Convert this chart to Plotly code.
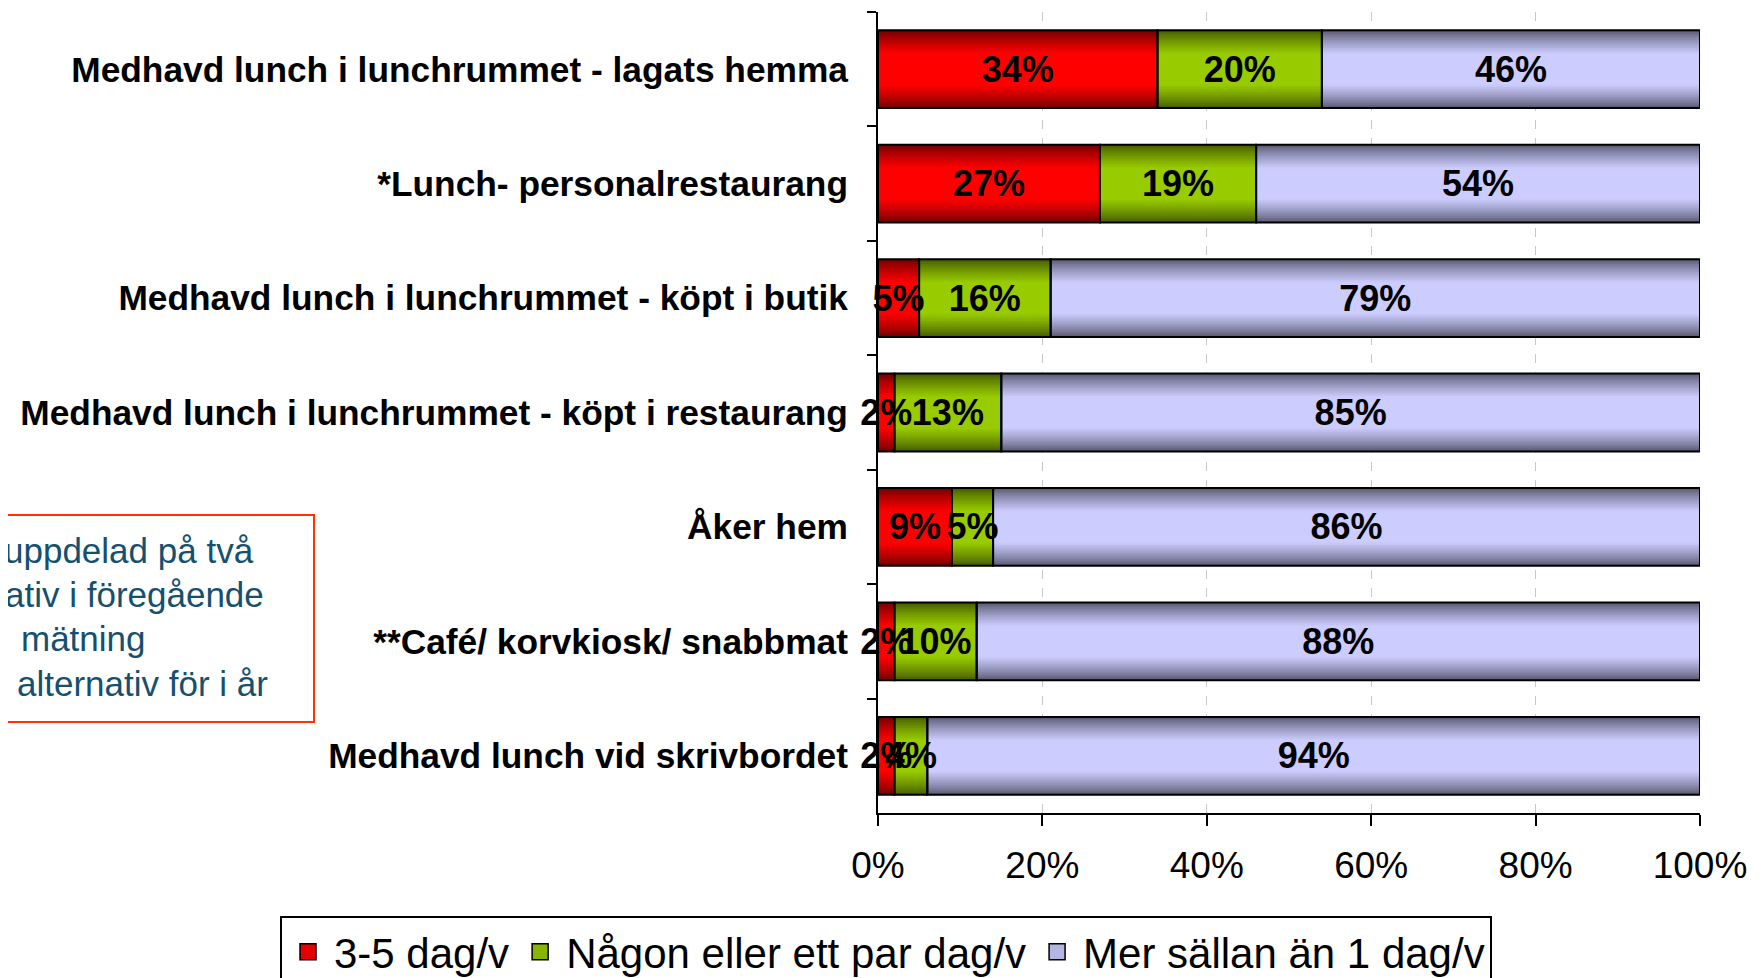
import plotly.graph_objects as go

# ---- data ----
categories = [
    "Medhavd lunch i lunchrummet - lagats hemma",
    "*Lunch- personalrestaurang",
    "Medhavd lunch i lunchrummet - köpt i butik",
    "Medhavd lunch i lunchrummet - köpt i restaurang",
    "Åker hem",
    "**Café/ korvkiosk/ snabbmat",
    "Medhavd lunch vid skrivbordet",
]
series_names = ["3-5 dag/v", "Någon eller ett par dag/v", "Mer sällan än 1 dag/v"]
v_often = [34, 27, 5, 2, 9, 2, 2]
v_some = [20, 19, 16, 13, 5, 10, 4]
v_rare = [46, 54, 79, 85, 86, 88, 94]
x_ticks = [0, 20, 40, 60, 80, 100]
x_tick_labels = ["0%", "20%", "40%", "60%", "80%", "100%"]
note_lines = ["uppdelad på två", "ativ i föregående", "mätning", "alternativ för i år"]

# ---- style ----
FONT = "Liberation Sans, Arial, sans-serif"
W, H = 1761, 978
OFF = 8  # page body margin offset


def px(x):
    return (x - OFF) / W


def py(y):
    return 1 - (y - OFF) / H


dark = [(0x70, 0x00, 0x00), (0x44, 0x5A, 0x00), (0x58, 0x58, 0x70)]
bright = [(0xFF, 0x00, 0x00), (0x99, 0xCC, 0x00), (0xCC, 0xCC, 0xFF)]
BAR_W = 0.68
N_LAYERS = 18


def mix(c1, c2, t):
    return "rgb(%d,%d,%d)" % tuple(round(a + (b - a) * t) for a, b in zip(c1, c2))


values = [v_often, v_some, v_rare]
bases = []
acc = [0] * len(categories)
for vals in values:
    bases.append(list(acc))
    acc = [a + v for a, v in zip(acc, vals)]

fig = go.Figure()

# gradient layers (outer dark -> inner bright)
for s, vals in enumerate(values):
    for i in range(N_LAYERS):
        frac = 1.0 - i * (0.7 / (N_LAYERS - 1))
        t = min(1.0, (i / (N_LAYERS - 1)) ** 0.8 * 1.15)
        fig.add_trace(go.Bar(
            y=categories, x=vals, base=bases[s], orientation="h",
            width=BAR_W * frac,
            marker=dict(color=mix(dark[s], bright[s], t), line=dict(width=0)),
            showlegend=False, hoverinfo="skip",
        ))

# outlines + labels on top
for s, vals in enumerate(values):
    fig.add_trace(go.Bar(
        y=categories, x=vals, base=bases[s], orientation="h",
        width=BAR_W,
        marker=dict(color="rgba(0,0,0,0)", line=dict(color="black", width=2)),
        text=[f"{v}%" for v in vals], textposition="inside", textangle=0,
        insidetextanchor="middle", constraintext="none", cliponaxis=False,
        textfont=dict(family=FONT, size=36, color="black", weight="bold"),
        showlegend=False, hoverinfo="skip",
    ))

# legend proxies
for s, name in enumerate(series_names):
    fig.add_trace(go.Scatter(
        x=[None], y=[None], mode="markers", name=name,
        marker=dict(symbol="square", size=22, color=mix(dark[s], bright[s], 0.8),
                    line=dict(color="black", width=1.5)),
    ))

fig.update_layout(
    width=W, height=H,
    barmode="overlay",
    plot_bgcolor="white", paper_bgcolor="white",
    margin=dict(l=0, r=0, t=0, b=0, autoexpand=False),
    font=dict(family=FONT, color="black"),
    legend=dict(
        orientation="h", x=px(280), y=py(916),
        xanchor="left", yanchor="top",
        font=dict(family=FONT, size=42, color="black"),
        bordercolor="black", borderwidth=2, bgcolor="white",
        itemwidth=42, tracegroupgap=0,
    ),
    xaxis=dict(
        domain=[px(878), px(1700)], range=[0, 100],
        tickvals=x_ticks, ticktext=x_tick_labels,
        ticks="outside", ticklen=11, tickwidth=2, tickcolor="black",
        showline=True, linecolor="black", linewidth=2,
        showgrid=True, gridcolor="#C8C8C8", griddash="dash", gridwidth=1,
        zeroline=False,
        tickfont=dict(family=FONT, size=37, color="black"),
        ticklabelstandoff=8,
    ),
    yaxis=dict(
        domain=[py(813), py(12)],
        type="category", categoryorder="array", categoryarray=categories,
        autorange="reversed",
        ticks="outside", ticklen=9, tickwidth=2, tickcolor="black",
        tickson="boundaries",
        showline=True, linecolor="black", linewidth=2,
        showgrid=False,
        tickfont=dict(family=FONT, size=35.3, color="black", weight="bold"),
        ticklabelstandoff=21,
    ),
)

# note box (partly off-canvas on the left)
fig.add_shape(type="rect", xref="paper", yref="paper",
              x0=-0.1, x1=px(314), y0=py(722), y1=py(515),
              line=dict(color="#FF3300", width=2), fillcolor="rgba(0,0,0,0)")
note_right = [256, 266, 148, 270]
note_y = [550, 594, 638, 683]
for txt, xr, yy in zip(note_lines, note_right, note_y):
    fig.add_annotation(text=txt, xref="paper", yref="paper",
                       x=px(xr), y=py(yy), xanchor="right", yanchor="middle",
                       showarrow=False,
                       font=dict(family=FONT, size=35, color="#15506E"))

# corner decoration fragment
fig.add_shape(type="path", xref="paper", yref="paper",
              path=f"M {px(1753)},{py(978)} L {px(1761)},{py(962)} L {px(1761)},{py(978)} Z",
              line=dict(width=0), fillcolor="#FF3300")

fig.write_html("out.html")
